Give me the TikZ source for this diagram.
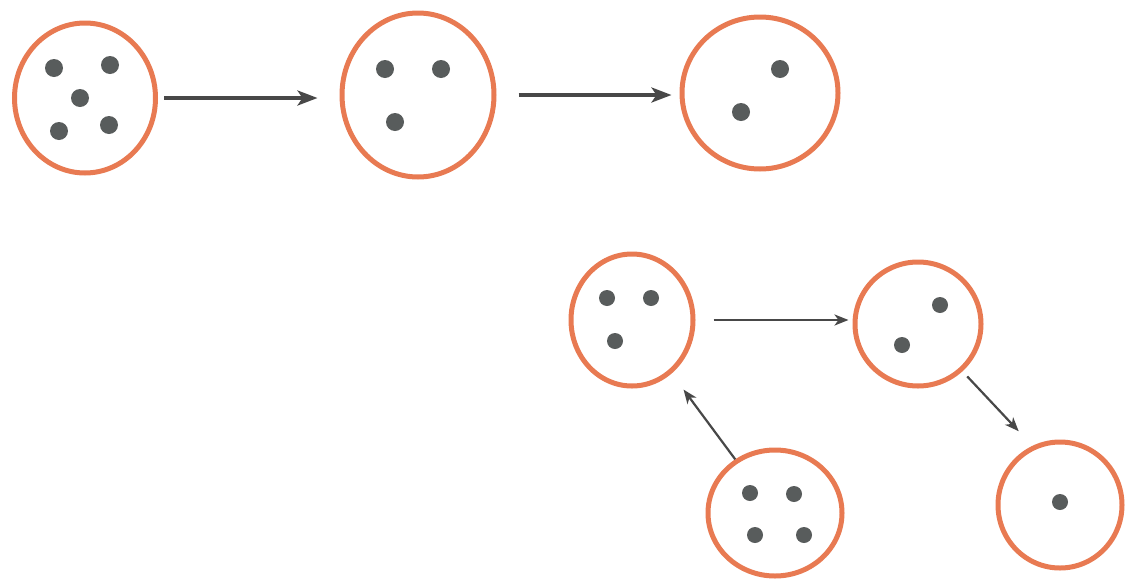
\documentclass[tikz,border=0pt]{standalone}
\usetikzlibrary{positioning}
\usetikzlibrary {arrows.meta}
\usetikzlibrary{shapes.geometric}
\definecolor{rimorange}{RGB}{232,122,82}
\definecolor{dotgray}{RGB}{88,92,92}
\definecolor{arrowgray}{RGB}{72,72,72}

\begin{document}
\begin{tikzpicture}[x=1pt,y=-1pt,on grid,
    cell/.style={draw=rimorange,line width=5pt,ellipse,inner sep=0pt},
    blob/.style={fill=dotgray,circle,inner sep=0pt,minimum size=18pt},
    smallblob/.style={blob,minimum size=16pt},
    flow/.style={draw=arrowgray,line width=3.5pt,-{Stealth[length=20pt,width=15pt,inset=5pt]}},
    thinflow/.style={draw=arrowgray,line width=2.2pt,-{Stealth[length=14pt,width=11pt,inset=4pt]}}]
    \useasboundingbox (0,0) rectangle (1128,579);
    %% 上排
    \node[cell,minimum width=141pt,minimum height=150pt] (c1) at (85,98){};
    \node[cell,minimum width=152pt,minimum height=164pt,above right =3pt and 333pt of c1] (c2){};
    \node[cell,minimum width=156pt,minimum height=152pt,above right =2pt and 342pt of c2] (c3){};
    %%
    \node[blob,above right =30pt and -31pt of c1] (p11){};
    \node[blob,above right =33pt and 25pt of c1] (p12){};
    \node[blob,above right =0pt and -5pt of c1] (p13){};
    \node[blob,above right =-33pt and -26pt of c1] (p14){};
    \node[blob,above right =-27pt and 24pt of c1] (p15){};
    %%
    \node[blob,above right =26pt and -33pt of c2] (p21){};
    \node[blob,above right =26pt and 23pt of c2] (p22){};
    \node[blob,above right =-27pt and -23pt of c2] (p23){};
    %%
    \node[blob,above right =24pt and 20pt of c3] (p31){};
    \node[blob,above right =-19pt and -19pt of c3] (p32){};
    %% 下排
    \node[cell,minimum width=122pt,minimum height=132pt] (cA) at (632,320){};
    \node[cell,minimum width=126pt,minimum height=124pt,above right =-4pt and 286pt of cA] (cB){};
    \node[cell,minimum width=134pt,minimum height=126pt,below right =193pt and 143pt of cA] (cC){};
    \node[cell,minimum width=124pt,minimum height=126pt,below right =181pt and 142pt of cB] (cD){};
    %%
    \node[smallblob,above right =22pt and -25pt of cA] (pA1){};
    \node[smallblob,above right =22pt and 19pt of cA] (pA2){};
    \node[smallblob,above right =-21pt and -17pt of cA] (pA3){};
    \node[smallblob,above right =19pt and 22pt of cB] (pB1){};
    \node[smallblob,above right =-21pt and -16pt of cB] (pB2){};
    \node[smallblob,above right =20pt and -25pt of cC] (pC1){};
    \node[smallblob,above right =19pt and 19pt of cC] (pC2){};
    \node[smallblob,above right =-22pt and -20pt of cC] (pC3){};
    \node[smallblob,above right =-22pt and 29pt of cC] (pC4){};
    \node[smallblob,above right =3pt and 0pt of cD] (pD1){};
    % 箭头
    \draw[flow,shorten <=6pt,shorten >=22pt] (c1.east) -- (c1.east -| c2.west);
    \draw[flow,shorten <=22pt,shorten >=8pt] (c2.east) -- (c2.east -| c3.west);
    \draw[thinflow,line width=2.5pt,shorten <=18pt,shorten >=4pt] (cA.east) -- (cA.east -| cB.west);
    \draw[thinflow,shorten <=0pt,shorten >=20pt] (cC) -- (cA);
    \draw[thinflow,shorten <=7pt,shorten >=20pt] (cB) -- (cD.115);
\end{tikzpicture}
\end{document}
